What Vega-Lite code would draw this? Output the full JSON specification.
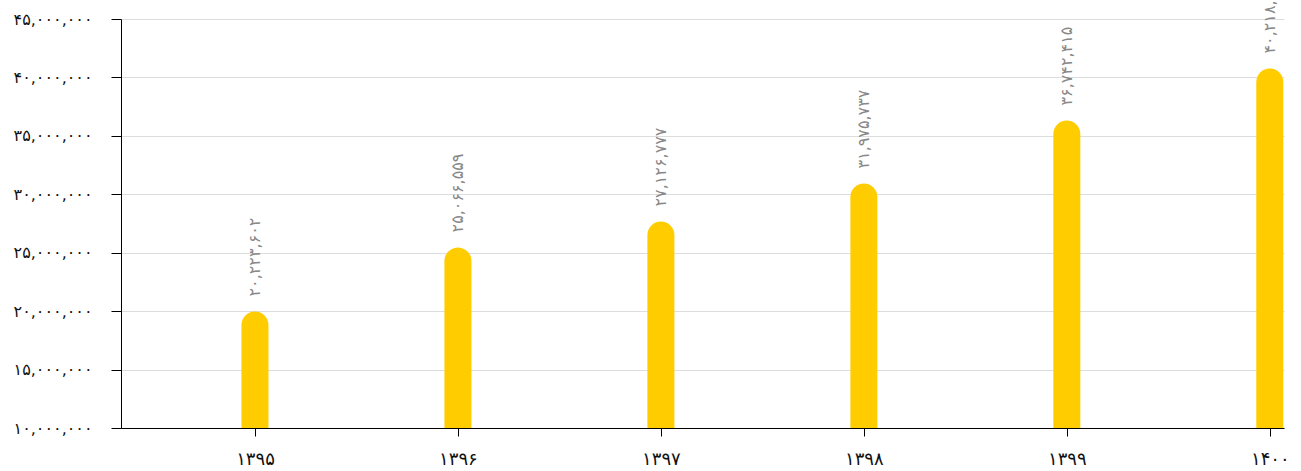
{
  "$schema": "https://vega.github.io/schema/vega-lite/v6.json",
  "width": 1163,
  "height": 409,
  "autosize": {"type": "none"},
  "padding": {"left": 121, "top": 19, "right": 17, "bottom": 43},
  "background": "white",
  "config": {"view": {"stroke": null}, "font": "DejaVu Sans"},
  "data": {
    "values": [
      {"year": 1395, "value": 19970000, "label": "۲۰,۲۲۳,۶۰۲"},
      {"year": 1396, "value": 25450000, "label": "۲۵,۰۶۶,۵۵۹"},
      {"year": 1397, "value": 27670000, "label": "۲۷,۱۲۶,۷۷۷"},
      {"year": 1398, "value": 30920000, "label": "۳۱,۹۷۵,۷۳۷"},
      {"year": 1399, "value": 36310000, "label": "۳۶,۷۴۲,۴۱۵"},
      {"year": 1400, "value": 40760000, "label": "۴۰,۲۱۸,۲۹۰"}
    ]
  },
  "encoding": {
    "x": {
      "field": "year",
      "type": "quantitative",
      "scale": {"domain": [1394.34, 1400.07], "nice": false, "zero": false, "padding": 0},
      "axis": {
        "title": null,
        "values": [1395, 1396, 1397, 1398, 1399, 1400],
        "labelExpr": "replace(replace(replace(replace(replace(replace(replace(replace(replace(replace(format(datum.value, 'd'), /0/g, '۰'), /1/g, '۱'), /2/g, '۲'), /3/g, '۳'), /4/g, '۴'), /5/g, '۵'), /6/g, '۶'), /7/g, '۷'), /8/g, '۸'), /9/g, '۹')",
        "grid": false,
        "domainColor": "#000000",
        "tickColor": "#000000",
        "tickSize": 8,
        "labelFontSize": 18,
        "labelColor": "#111111",
        "labelPadding": 14,
        "labelFlush": false,
        "labelOverlap": false
      }
    },
    "y": {
      "field": "value",
      "type": "quantitative",
      "scale": {"domain": [10000000, 45000000], "nice": false, "zero": false},
      "axis": {
        "title": null,
        "values": [10000000, 15000000, 20000000, 25000000, 30000000, 35000000, 40000000, 45000000],
        "labelExpr": "replace(replace(replace(replace(replace(replace(replace(replace(replace(replace(format(datum.value, ','), /0/g, '۰'), /1/g, '۱'), /2/g, '۲'), /3/g, '۳'), /4/g, '۴'), /5/g, '۵'), /6/g, '۶'), /7/g, '۷'), /8/g, '۸'), /9/g, '۹')",
        "grid": true,
        "gridColor": "#dddddd",
        "domainColor": "#000000",
        "tickColor": "#000000",
        "tickSize": 10,
        "labelFontSize": 16,
        "labelColor": "#111111",
        "labelPadding": 19,
        "labelFlush": false,
        "labelOverlap": false
      }
    }
  },
  "layer": [
    {
      "mark": {
        "type": "bar",
        "color": "#FFCC00",
        "width": 27,
        "cornerRadiusTopLeft": 13.5,
        "cornerRadiusTopRight": 13.5,
        "clip": true
      },
      "encoding": {
        "y2": {"datum": 10000000}
      }
    },
    {
      "mark": {
        "type": "text",
        "angle": 270,
        "align": "left",
        "baseline": "middle",
        "dx": 15,
        "color": "#888888",
        "fontSize": 16
      },
      "encoding": {
        "text": {"field": "label"}
      }
    }
  ]
}
